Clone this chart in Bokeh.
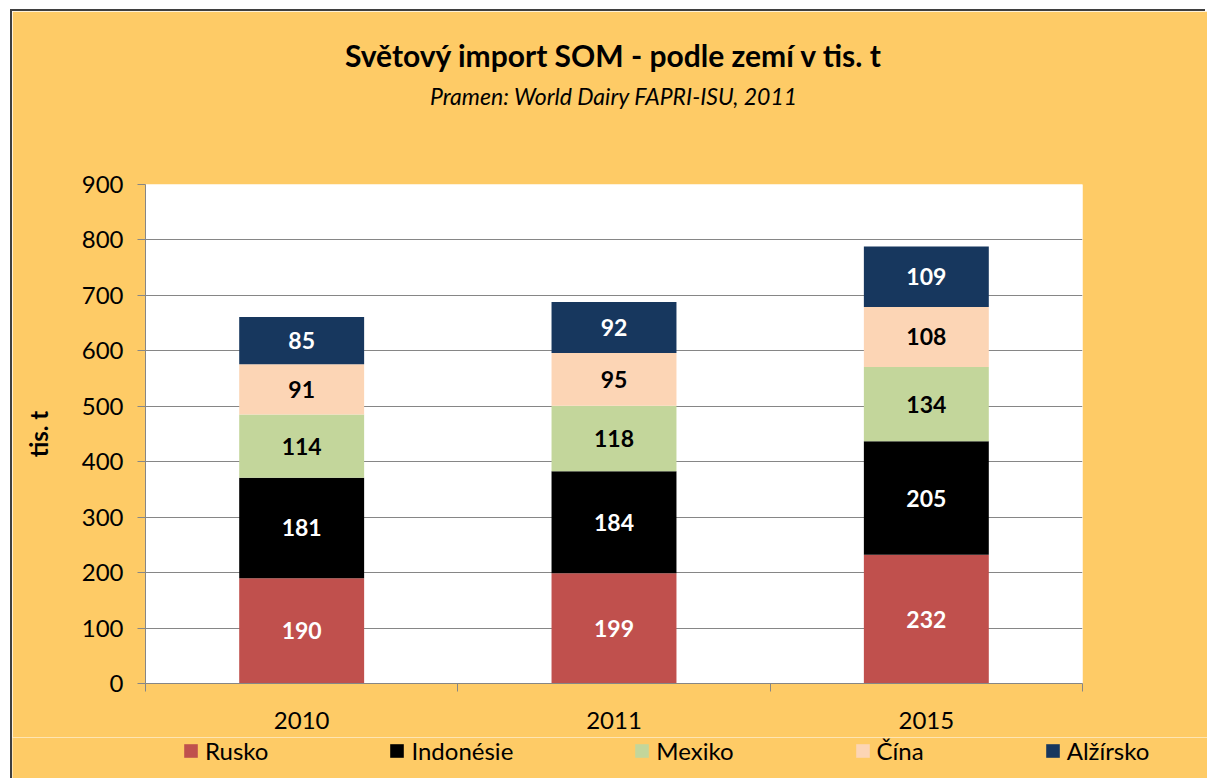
from bokeh.plotting import figure
from bokeh.models import (ColumnDataSource, Range1d, FixedTicker, LinearAxis,
                          Legend, LegendItem, Title)
from bokeh.core.properties import value
from bokeh.embed import file_html
from bokeh.resources import INLINE

# ---- data ----
years = ["2010", "2011", "2015"]
countries = ["Rusko", "Indonésie", "Mexiko", "Čína", "Alžírsko"]
rusko = [190, 199, 232]
indonesie = [181, 184, 205]
mexiko = [114, 118, 134]
cina = [91, 95, 108]
alzirsko = [85, 92, 109]
y_ticks = [0, 100, 200, 300, 400, 500, 600, 700, 800, 900]

colors = ["#C0504D", "#000000", "#C3D69B", "#FCD5B5", "#17375E"]
label_colors = ["#FFFFFF", "#FFFFFF", "#000000", "#000000", "#FFFFFF"]
BG = "#FECB66"
GRID = "#868686"
FONT = "Lato"

series = [rusko, indonesie, mexiko, cina, alzirsko]
keys = ["s%d" % i for i in range(len(series))]
xpos = [i + 0.5 for i in range(len(years))]
data = {"x": xpos}
for k, s in zip(keys, series):
    data[k] = s
src = ColumnDataSource(data)

p = figure(width=1195, height=726, x_range=Range1d(0, len(years)),
           y_range=Range1d(0, 900), output_backend="svg", toolbar_location=None,
           x_axis_location=None, title=None,
           background_fill_color="white", border_fill_color=BG,
           outline_line_color=None,
           min_border_left=133, min_border_right=125,
           min_border_top=173, min_border_bottom=54)
p.margin = (11, 0, 0, 12)
p.styles = {"box-shadow": "-2px -2px 0 0 #3F3F3F, -2px 0 0 0 #3F3F3F"}

# titles (first added = nearest the plot)
p.add_layout(Title(text=" ", text_font_size="49px", text_font=FONT), "above")
p.add_layout(Title(text="Pramen: World Dairy FAPRI-ISU, 2011", align="center",
                   text_font_size="23px", text_font_style="italic",
                   text_font=FONT, text_color="#000000"), "above")
p.add_layout(Title(text="Světový import SOM - podle zemí v tis. t", align="center",
                   text_font_size="30px", text_font_style="bold", standoff=3,
                   text_font=FONT, text_color="#000000"), "above")

renderers = p.vbar_stack(keys, x="x", width=0.4, color=colors, line_color=None,
                         source=src)

# value labels
bottom = [0] * len(years)
for s, lc in zip(series, label_colors):
    mids = [b + v / 2 for b, v in zip(bottom, s)]
    p.text(x=xpos, y=mids, text=[str(v) for v in s], text_align="center",
           text_baseline="middle", text_color=lc, text_font=value(FONT),
           text_font_style="bold", text_font_size="23px")
    bottom = [b + v for b, v in zip(bottom, s)]

# y axis
yax = p.yaxis[0]
yax.ticker = FixedTicker(ticks=y_ticks)
yax.minor_tick_line_color = None
yax.major_tick_out = 8
yax.major_tick_in = 0
yax.major_tick_line_color = GRID
yax.axis_line_color = GRID
yax.major_label_text_font = FONT
yax.major_label_text_font_size = "24px"
yax.major_label_text_color = "#000000"
yax.major_label_standoff = 14
yax.axis_label = "tis. t"
yax.axis_label_text_font = FONT
yax.axis_label_text_font_size = "24px"
yax.axis_label_text_font_style = "bold"
yax.axis_label_text_color = "#000000"
yax.axis_label_standoff = 26

p.ygrid.ticker = FixedTicker(ticks=y_ticks)
p.ygrid.grid_line_color = GRID
p.xgrid.grid_line_color = None

# x axis: boundary tick marks
xtick_axis = LinearAxis(ticker=FixedTicker(ticks=list(range(len(years) + 1))),
                        major_label_text_font_size="0px", major_label_standoff=0,
                        major_tick_out=8, major_tick_in=0,
                        major_tick_line_color=GRID, axis_line_color=GRID,
                        minor_tick_line_color=None)
p.add_layout(xtick_axis, "below")
# x axis: year labels
xlab_axis = LinearAxis(ticker=FixedTicker(ticks=xpos),
                       major_label_overrides={x: y for x, y in zip(xpos, years)},
                       major_label_text_font=FONT, major_label_text_font_size="24px",
                       major_label_text_color="#000000", major_label_standoff=14,
                       major_tick_line_color=None, axis_line_color=None,
                       minor_tick_line_color=None)
p.add_layout(xlab_axis, "below")

# legend strip: a separate root figure (not frame-aligned, legend not clipped);
# it holds the same stacked bars, kept far outside its visible y range,
# only to provide the legend glyphs
p2 = figure(width=1195, height=41, x_range=Range1d(0, len(years)),
            y_range=Range1d(50000, 50001),
            output_backend="svg", toolbar_location=None, title=None,
            x_axis_location=None, y_axis_location=None,
            background_fill_color=BG, border_fill_color=BG, outline_line_color=None,
            min_border_left=0, min_border_right=0, min_border_top=0,
            min_border_bottom=0)
p2.margin = (0, 0, 0, 12)
p2.styles = {"box-shadow": "-2px 0 0 0 #3F3F3F"}
p2.xgrid.grid_line_color = None
p2.ygrid.grid_line_color = None
leg_renderers = p2.vbar_stack(keys, x="x", width=0.4, color=colors,
                              line_color=None, source=src)
legend = Legend(items=[LegendItem(label=c, renderers=[r])
                       for c, r in zip(countries, leg_renderers)],
                orientation="horizontal", location=(170, 13),
                background_fill_alpha=0, border_line_color=None,
                padding=0, margin=0, spacing=120, glyph_width=17, glyph_height=17,
                label_standoff=6, label_text_font=FONT, label_text_font_size="24px",
                label_text_color="#000000")
p2.add_layout(legend, "center")

open("out.html", "w").write(file_html([p, p2], INLINE))
